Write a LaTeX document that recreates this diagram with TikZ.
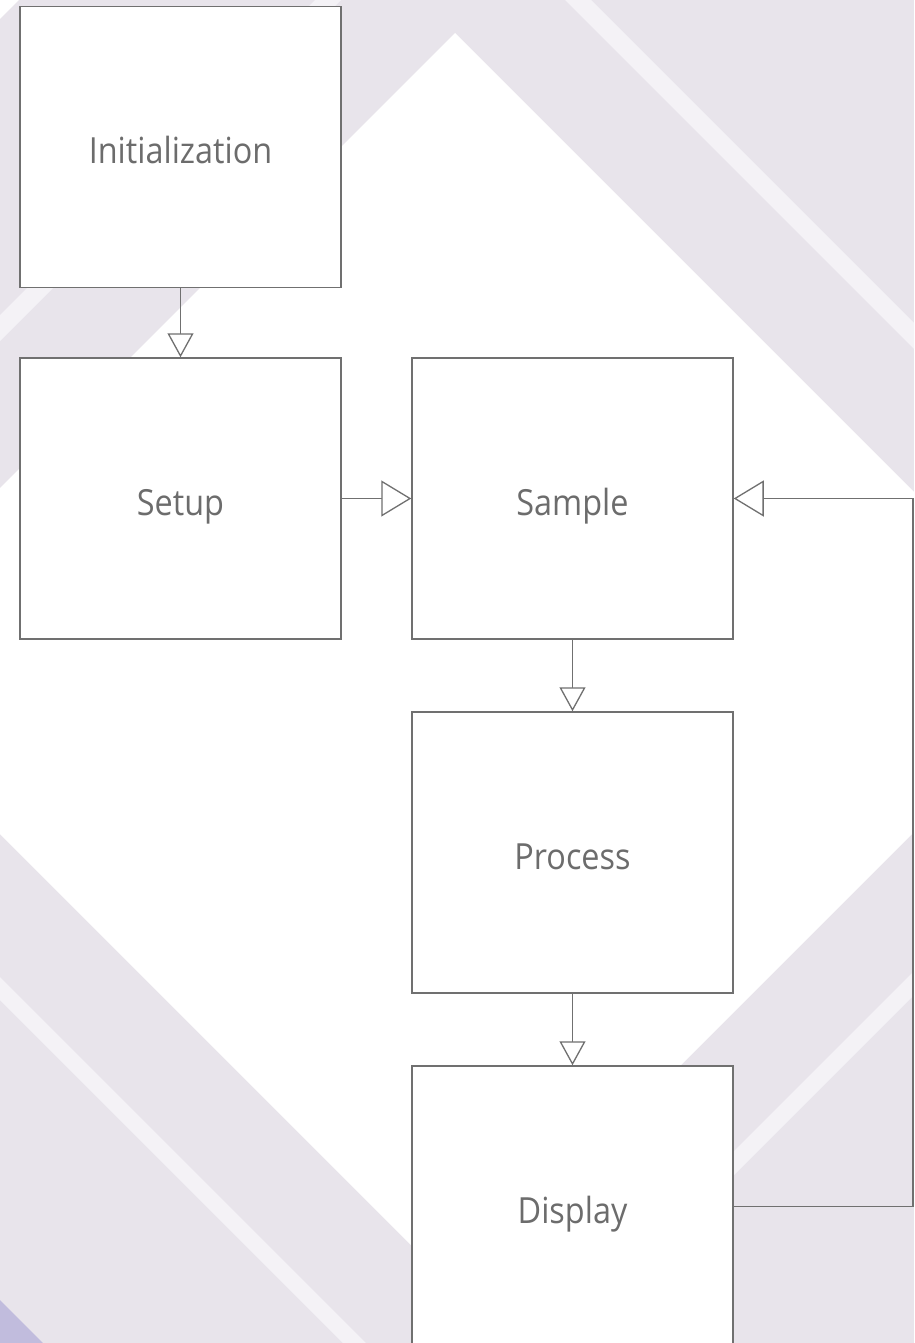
\documentclass[tikz,border=0pt]{standalone}
\usepackage{fontspec}
\setmainfont[FakeStretch=0.9]{Open Sans}
\usetikzlibrary{arrows.meta}
\definecolor{lav}{RGB}{232,228,235}
\definecolor{lite}{RGB}{244,242,246}
\definecolor{purp}{RGB}{193,188,221}
\definecolor{edgegray}{RGB}{112,112,112}
\definecolor{txtgray}{RGB}{108,108,108}
\begin{document}
\begin{tikzpicture}[x=1pt,y=-1pt,
  box/.style={draw=edgegray, line width=1.5pt, fill=white, minimum width=321pt, minimum height=281pt, inner sep=0pt, text=txtgray, font=\fontsize{36}{40}\selectfont, text height=34pt, text depth=0pt},
  conn/.style={draw=edgegray, line width=1.3pt},
  varr/.style={conn, -{Triangle[open, length=24pt, width=26pt, fill=white]}},
  harr/.style={conn, -{Triangle[open, length=30pt, width=36pt, fill=white]}}]
\useasboundingbox (0,0) rectangle (914,1343);
\begin{scope}
  \clip (0,0) rectangle (914,1343);
  \fill[lav] (0,0) rectangle (914,1343);
  \fill[white] (455,33) -- (1084,662) -- (456,1290) -- (-173,661) -- cycle;
  \fill[white] (0,0) -- (19,0) -- (0,19) -- cycle;
  \fill[lite] (315,0) -- (341,0) -- (0,341) -- (0,315) -- cycle;
  \fill[lite] (565,0) -- (591,0) -- (1591,1000) -- (1565,1000) -- cycle;
  \fill[lite] (0,977) -- (0,1000) -- (500,1500) -- (523,1500) -- cycle;
  \fill[lite] (914,971) -- (914,995) -- (0,1909) -- (0,1885) -- cycle;
  \fill[purp] (0,1300) -- (100,1400) -- (0,1400) -- cycle;
\end{scope}
\node[box] (init) at (180.5,147) {Initialization};
\node[box] (setup) at (180.5,498.5) {Setup};
\node[box] (sample) at (572.5,498.5) {Sample};
\node[box] (process) at (572.5,852.5) {Process};
\node[box] (display) at (572.5,1206.5) {Display};
\coordinate (fb) at (913,0);
\draw[varr] (init.south) -- (setup.north);
\draw[harr] (setup.east) -- (sample.west);
\draw[varr] (sample.south) -- (process.north);
\draw[varr] (process.south) -- (display.north);
\draw[harr] (display.east) -- (display.east -| fb) -- (sample.east -| fb) -- (sample.east);
\end{tikzpicture}
\end{document}
